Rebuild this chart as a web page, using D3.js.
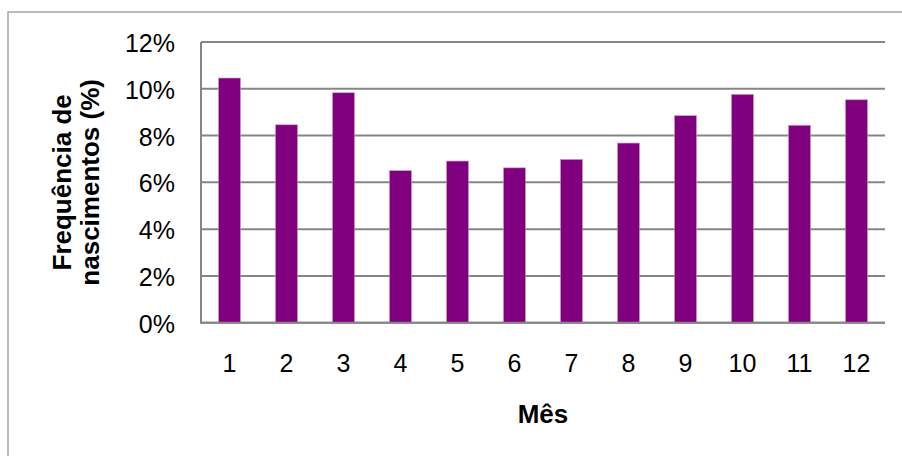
<!DOCTYPE html>
<html>
<head>
<meta charset="utf-8">
<script src="https://cdn.jsdelivr.net/npm/d3@7"></script>
<style>
  body { margin: 0; background: #fff; }
  text { font-family: "Liberation Sans", Arial, sans-serif; fill: #000; }
</style>
</head>
<body>
<div id="chart"></div>
<script>
const months = ["1", "2", "3", "4", "5", "6", "7", "8", "9", "10", "11", "12"];
const freq = [0.1046, 0.0846, 0.0983, 0.0650, 0.0691, 0.0662, 0.0698, 0.0768, 0.0885, 0.0976, 0.0844, 0.0953];
const yTicks = [0, 0.02, 0.04, 0.06, 0.08, 0.10, 0.12];

const W = 902, H = 456;
const plot = { left: 201, right: 885, top: 42, bottom: 322.7 };

const svg = d3.select("#chart").append("svg")
    .attr("width", W)
    .attr("height", H);

// outer chart frame (right and bottom run off the picture)
svg.append("rect")
    .attr("x", 8).attr("y", 12)
    .attr("width", W + 10).attr("height", H + 10)
    .attr("fill", "none")
    .attr("stroke", "#a6a6a6")
    .attr("stroke-width", 1.5);

const x = d3.scaleBand()
    .domain(months)
    .range([plot.left, plot.right])
    .paddingInner(0.614)
    .paddingOuter(0.307);

const y = d3.scaleLinear()
    .domain([0, 0.12])
    .range([plot.bottom, plot.top]);

// gridlines
svg.append("g")
    .selectAll("line")
    .data(yTicks)
    .join("line")
        .attr("x1", plot.left).attr("x2", plot.right)
        .attr("y1", d => y(d)).attr("y2", d => y(d))
        .attr("stroke", "#868686")
        .attr("stroke-width", 2);

// y axis line
svg.append("line")
    .attr("x1", plot.left).attr("x2", plot.left)
    .attr("y1", plot.top).attr("y2", plot.bottom + 1)
    .attr("stroke", "#868686")
    .attr("stroke-width", 2);

// bars
svg.append("g")
    .selectAll("rect")
    .data(months)
    .join("rect")
        .attr("x", d => x(d))
        .attr("width", x.bandwidth())
        .attr("y", (d, i) => y(freq[i]))
        .attr("height", (d, i) => y(0) - y(freq[i]))
        .attr("fill", "#800080")
        .attr("stroke", "#c99ac9")
        .attr("stroke-width", 0.6);

// redraw baseline over bars
svg.append("line")
    .attr("x1", plot.left).attr("x2", plot.right)
    .attr("y1", y(0)).attr("y2", y(0))
    .attr("stroke", "#868686")
    .attr("stroke-width", 2);

// y tick labels
const yAxis = svg.append("g")
    .attr("transform", `translate(${plot.left},0)`)
    .call(d3.axisLeft(y).tickValues(yTicks).tickFormat(d3.format(".0%")).tickSize(0).tickPadding(26));
yAxis.select(".domain").remove();
yAxis.selectAll("text")
    .attr("dy", "0.38em")
    .style("font-size", "25px")
    .style("font-family", "'Liberation Sans', Arial, sans-serif");

// x tick labels
const xAxis = svg.append("g")
    .attr("transform", `translate(0,${plot.bottom})`)
    .call(d3.axisBottom(x).tickSize(0).tickPadding(31.5));
xAxis.select(".domain").remove();
xAxis.selectAll("text")
    .attr("dy", "0.71em")
    .style("font-size", "25px")
    .style("font-family", "'Liberation Sans', Arial, sans-serif");

// axis titles
svg.append("text")
    .attr("x", (plot.left + plot.right) / 2)
    .attr("y", 423)
    .attr("text-anchor", "middle")
    .style("font-size", "26px")
    .style("font-weight", "bold")
    .text("Mês");

const yTitle = svg.append("text")
    .attr("transform", `translate(71,${(plot.top + plot.bottom) / 2}) rotate(-90)`)
    .attr("text-anchor", "middle")
    .style("font-size", "26px")
    .style("font-weight", "bold");
yTitle.append("tspan").attr("x", 0).attr("dy", 0).text("Frequência de");
yTitle.append("tspan").attr("x", 0).attr("dy", 28).text("nascimentos (%)");
</script>
</body>
</html>
